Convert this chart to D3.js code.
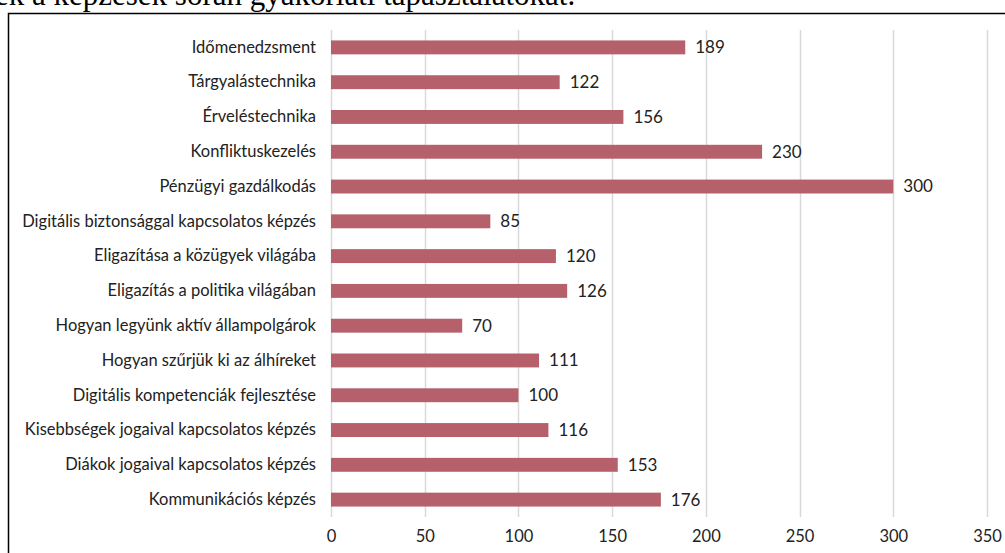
<!DOCTYPE html>
<html>
<head>
<meta charset="utf-8">
<script src="https://cdn.jsdelivr.net/npm/d3@7"></script>
<style>
  html, body { margin: 0; padding: 0; background: #fff; }
  svg { display: block; }
</style>
</head>
<body>
<svg id="chart" width="1005" height="553"></svg>
<script>
// Training topics and number of participants
const categories = [
  "Időmenedzsment",
  "Tárgyalástechnika",
  "Érveléstechnika",
  "Konfliktuskezelés",
  "Pénzügyi gazdálkodás",
  "Digitális biztonsággal kapcsolatos képzés",
  "Eligazítása a közügyek világába",
  "Eligazítás a politika világában",
  "Hogyan legyünk aktív állampolgárok",
  "Hogyan szűrjük ki az álhíreket",
  "Digitális kompetenciák fejlesztése",
  "Kisebbségek jogaival kapcsolatos képzés",
  "Diákok jogaival kapcsolatos képzés",
  "Kommunikációs képzés"
];
const values = [189, 122, 156, 230, 300, 85, 120, 126, 70, 111, 100, 116, 153, 176];
const tickValues = [0, 50, 100, 150, 200, 250, 300, 350];
const captionText = "ek a képzések során gyakorlati tapasztalatokat.";

const svg = d3.select("#chart");
const labelFont = "Lato, 'Open Sans', sans-serif";

// Preceding paragraph line (partly cut off at the top)
svg.append("text")
  .attr("x", -5)
  .attr("y", 5)
  .attr("font-family", "'Liberation Serif', 'Times New Roman', serif")
  .attr("font-size", 31)
  .attr("fill", "#000")
  .text(captionText);

// Chart frame
svg.append("rect")
  .attr("x", 8.5)
  .attr("y", 13.5)
  .attr("width", 1010)
  .attr("height", 560)
  .attr("fill", "none")
  .attr("stroke", "#000")
  .attr("stroke-width", 1.5);

const x = d3.scaleLinear().domain([0, 350]).range([331, 987]);
const y = d3.scaleBand().domain(categories).range([30, 517]).paddingInner(0.6).paddingOuter(0.3);

// Vertical gridlines
svg.append("g")
  .selectAll("line")
  .data(tickValues)
  .join("line")
  .attr("x1", d => Math.round(x(d)) + 0.5)
  .attr("x2", d => Math.round(x(d)) + 0.5)
  .attr("y1", 30)
  .attr("y2", 517)
  .attr("stroke", "#d9d9d9")
  .attr("stroke-width", 1.5);

// Bottom axis tick labels
const xAxis = d3.axisBottom(x).tickValues(tickValues).tickSize(0).tickPadding(0);
const gx = svg.append("g").attr("transform", "translate(0,530)").call(xAxis);
gx.select(".domain").remove();
gx.selectAll("text")
  .attr("font-family", labelFont)
  .attr("font-size", 16.5)
  .attr("fill", "#222")
  .attr("dy", "0.71em");

// Category labels
const yAxis = d3.axisLeft(y).tickSize(0).tickPadding(0);
const gy = svg.append("g").attr("transform", "translate(316,0)").call(yAxis);
gy.select(".domain").remove();
gy.selectAll("text")
  .attr("font-family", labelFont)
  .attr("font-size", 16.5)
  .attr("fill", "#222");

// Bars
svg.append("g")
  .selectAll("rect")
  .data(categories)
  .join("rect")
  .attr("x", x(0))
  .attr("y", d => y(d))
  .attr("width", (d, i) => x(values[i]) - x(0))
  .attr("height", y.bandwidth())
  .attr("fill", "#b5606b");

// Value labels
svg.append("g")
  .selectAll("text")
  .data(categories)
  .join("text")
  .attr("x", (d, i) => x(values[i]) + 10)
  .attr("y", d => y(d) + y.bandwidth() / 2)
  .attr("dy", "0.35em")
  .attr("font-family", labelFont)
  .attr("font-size", 17)
  .attr("fill", "#222")
  .text((d, i) => values[i]);
</script>
</body>
</html>
